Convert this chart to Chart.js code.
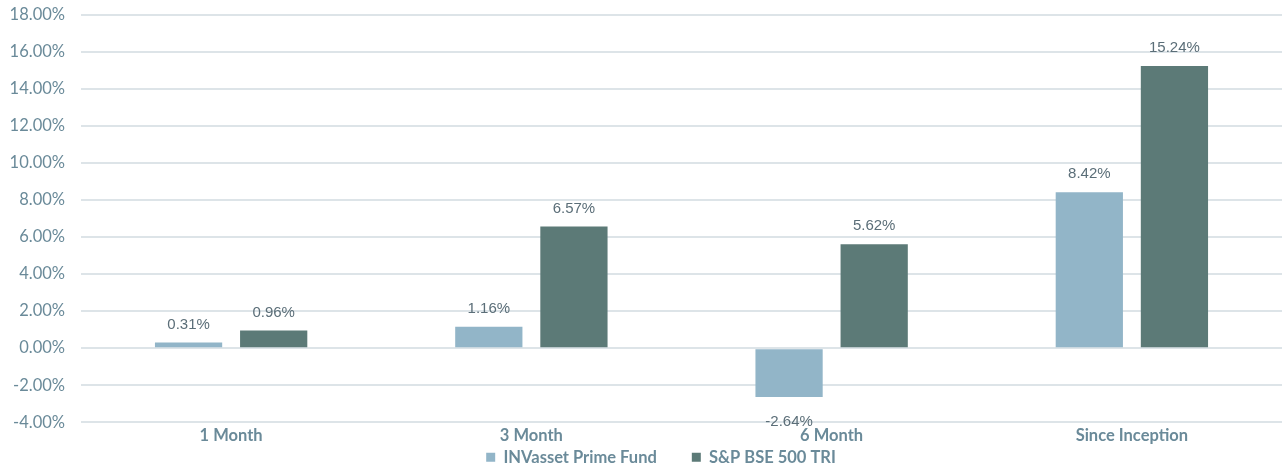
<!DOCTYPE html>
<html>
<head>
<meta charset="utf-8">
<script src="https://cdn.jsdelivr.net/npm/chart.js@4.4.1/dist/chart.umd.min.js"></script>
<style>
  html, body { margin: 0; padding: 0; background: #fff; }
  #wrap { width: 1286px; height: 467px; position: relative; }
</style>
</head>
<body>
<div id="wrap"><canvas id="chart"></canvas></div>
<script>
const categories = ['1 Month', '3 Month', '6 Month', 'Since Inception'];
const fundValues = [0.31, 1.16, -2.64, 8.42];
const indexValues = [0.96, 6.57, 5.62, 15.24];
const seriesNames = ['INVasset Prime Fund', 'S&P BSE 500 TRI'];

// draws the value above (or below, for negatives) each bar
const barLabels = {
    id: 'barLabels',
    afterDatasetsDraw(chart) {
        const ctx = chart.ctx;
        ctx.save();
        ctx.font = '15px "Liberation Sans", Arial, sans-serif';
        ctx.fillStyle = '#5b6e78';
        ctx.textAlign = 'center';
        ctx.textBaseline = 'middle';
        chart.data.datasets.forEach((ds, i) => {
            chart.getDatasetMeta(i).data.forEach((bar, j) => {
                const v = ds.data[j];
                const y = v >= 0 ? bar.y - 18 : bar.y + 25;
                ctx.fillText(v.toFixed(2) + '%', bar.x, y);
            });
        });
        ctx.restore();
    }
};

// legend keeps wide item spacing but reserves only a thin strip,
// then its box is moved up under the axis labels
const legendFit = {
    id: 'legendFit',
    beforeLayout(chart) {
        const lg = chart.legend;
        if (lg && !lg._trimmed) {
            const fit = lg.fit;
            lg.fit = function () { fit.call(this); this.height = 17; };
            lg._trimmed = true;
        }
    },
    afterLayout(chart) {
        const lg = chart.legend;
        const pad = lg.options.labels.padding;
        lg.top = 456 - pad - 7;
        lg.bottom = chart.height;
        lg.height = lg.bottom - lg.top;
        lg.left += 20;
        lg.right += 20;
    }
};

const ctx = document.getElementById('chart');
new Chart(ctx, {
    type: 'bar',
    data: {
        labels: categories,
        datasets: [
            { label: seriesNames[0], data: fundValues, backgroundColor: '#92b5c8', borderWidth: 0 },
            { label: seriesNames[1], data: indexValues, backgroundColor: '#5c7a77', borderWidth: 0 }
        ]
    },
    options: {
        responsive: true,
        maintainAspectRatio: false,
        animation: false,
        layout: { padding: { top: 0, right: 4, left: 0, bottom: 0 } },
        datasets: { bar: { categoryPercentage: 0.567, barPercentage: 0.79 } },
        plugins: {
            legend: {
                position: 'bottom',
                labels: {
                    boxWidth: 9, boxHeight: 9, padding: 35,
                    color: '#6a8a99',
                    font: { family: 'Lato', size: 16.5, weight: 'bold' }
                }
            },
            tooltip: { enabled: false }
        },
        scales: {
            x: {
                grid: { display: false, drawTicks: false },
                border: { display: false },
                ticks: { color: '#6a8a99', padding: 4, font: { family: 'Lato', size: 16.5, weight: 'bold' } }
            },
            y: {
                min: -4, max: 18,
                afterFit: s => { s.width = 81; s.paddingTop = 15; },
                grid: { color: '#dde4e8', lineWidth: 2, drawTicks: false },
                border: { display: false },
                ticks: {
                    stepSize: 2, padding: 16, color: '#6a8a99',
                    font: { family: 'Lato', size: 16.5 },
                    callback: v => v.toFixed(2) + '%'
                }
            }
        }
    },
    plugins: [barLabels, legendFit]
});
</script>
</body>
</html>
